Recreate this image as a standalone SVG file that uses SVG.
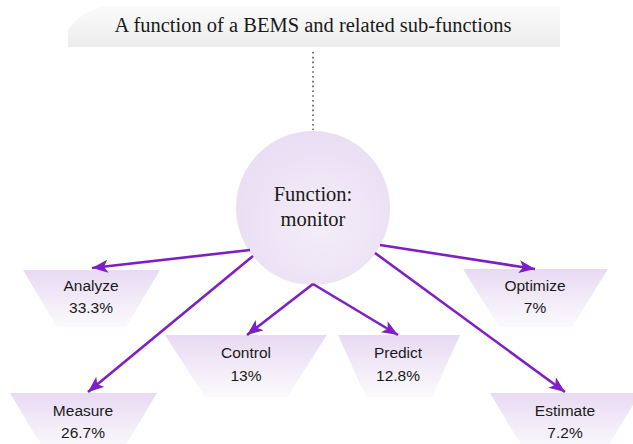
<svg xmlns="http://www.w3.org/2000/svg" width="633" height="444" viewBox="0 0 633 444">
  <defs>
    <linearGradient id="bannerFill" x1="0" y1="0" x2="0" y2="1">
      <stop offset="0" stop-color="#fbfbfb"/>
      <stop offset="1" stop-color="#ececec"/>
    </linearGradient>
    <radialGradient id="hubFill" cx="0.55" cy="0.6" r="0.6">
      <stop offset="0" stop-color="#f4edf9"/>
      <stop offset="1" stop-color="#e9def3"/>
    </radialGradient>
    <linearGradient id="trapFill" x1="0" y1="0" x2="0" y2="1">
      <stop offset="0" stop-color="#e8daf3"/>
      <stop offset="1" stop-color="#fbfafc"/>
    </linearGradient>
    <marker id="arrowHead" markerUnits="userSpaceOnUse" markerWidth="17" markerHeight="13" refX="16" refY="6.5" orient="auto">
      <path d="M0,0 L16,6.5 L0,13 L4,6.5 z" fill="#7d1fc4"/>
    </marker>
    <style>
      .serif { font-family: "Liberation Serif", "Times New Roman", serif; fill: #1a1a1a; }
      .sans { font-family: "Liberation Sans", Arial, sans-serif; font-size: 15.5px; fill: #1a1a1a; text-anchor: middle; }
      .trap { fill: url(#trapFill); }
      .link { stroke: #7d1fc4; stroke-width: 2.6; fill: none; marker-end: url(#arrowHead); }
    </style>
  </defs>

  <rect width="633" height="444" fill="#ffffff"/>

  <!-- title banner -->
  <g id="title">
    <path d="M68,30 Q80,12 104,6 L560,6 L560,47 L68,47 Z" fill="url(#bannerFill)"/>
    <text class="serif" x="313" y="32" font-size="20.5" text-anchor="middle">A function of a BEMS and related sub-functions</text>
  </g>

  <!-- dotted link from banner to hub -->
  <line x1="313" y1="52" x2="313" y2="130" stroke="#555" stroke-width="1.6" stroke-dasharray="1.6 3.2"/>

  <!-- central function -->
  <g id="monitor">
    <circle cx="313" cy="208" r="77" fill="url(#hubFill)"/>
    <text class="serif" x="313" y="201" font-size="20.5" text-anchor="middle">Function:</text>
    <text class="serif" x="313" y="226" font-size="20.5" text-anchor="middle">monitor</text>
  </g>

  <!-- sub-functions -->
  <g id="analyze">
    <polygon class="trap" points="23,270 160,270 126,327 57,327"/>
    <text class="sans" x="91" y="291">Analyze</text>
    <text class="sans" x="91" y="313">33.3%</text>
  </g>
  <g id="optimize">
    <polygon class="trap" points="463,269 608,269 572,327 499,327"/>
    <text class="sans" x="535" y="291">Optimize</text>
    <text class="sans" x="535" y="313">7%</text>
  </g>
  <g id="control">
    <polygon class="trap" points="165,335 327,335 287,397 205,397"/>
    <text class="sans" x="246" y="358">Control</text>
    <text class="sans" x="246" y="381">13%</text>
  </g>
  <g id="predict">
    <polygon class="trap" points="338,335 460,335 432,397 366,397"/>
    <text class="sans" x="398" y="358">Predict</text>
    <text class="sans" x="398" y="381">12.8%</text>
  </g>
  <g id="measure">
    <polygon class="trap" points="10,393 157,393 123,450 44,450"/>
    <text class="sans" x="83" y="416">Measure</text>
    <text class="sans" x="83" y="438">26.7%</text>
  </g>
  <g id="estimate">
    <polygon class="trap" points="490,393 640,393 606,450 524,450"/>
    <text class="sans" x="565" y="416">Estimate</text>
    <text class="sans" x="565" y="438">7.2%</text>
  </g>

  <!-- connectors -->
  <g id="connectors">
    <line class="link" x1="250" y1="250" x2="92" y2="268"/>
    <line class="link" x1="253" y1="256" x2="88" y2="392"/>
    <line class="link" x1="313" y1="284" x2="247" y2="335"/>
    <line class="link" x1="313" y1="284" x2="398" y2="335"/>
    <line class="link" x1="380" y1="245" x2="535" y2="269"/>
    <line class="link" x1="375" y1="253" x2="565" y2="392"/>
  </g>
</svg>
